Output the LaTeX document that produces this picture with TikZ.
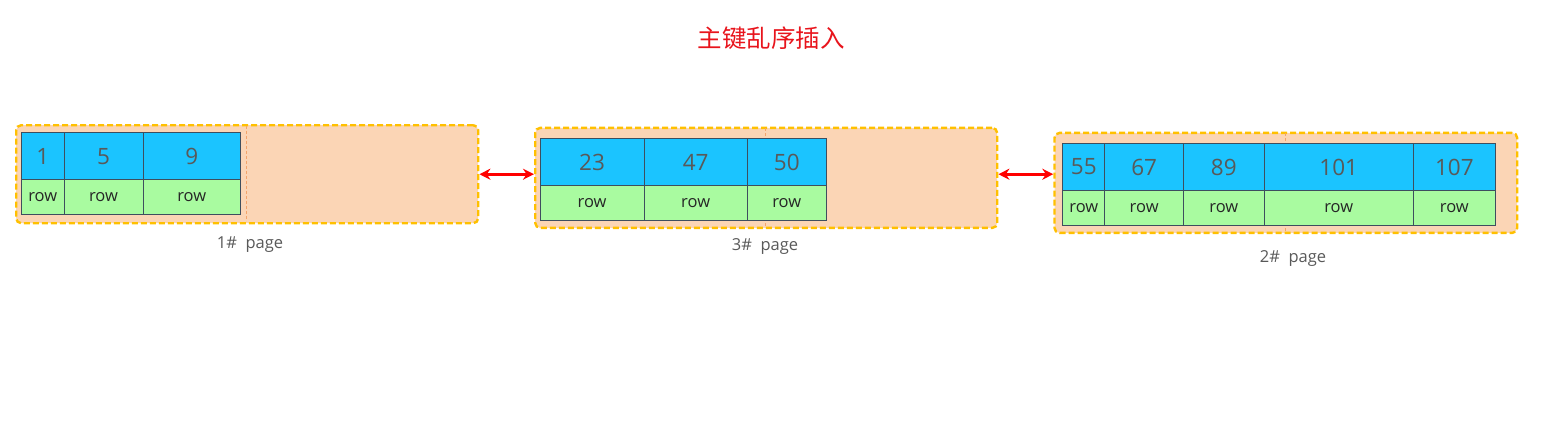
\documentclass[tikz,border=0pt]{standalone}
\usepackage{fontspec}
\setmainfont{Open Sans}
\newfontfamily\cjk{Noto Sans CJK SC}
\usetikzlibrary{arrows.meta}
\definecolor{peach}{HTML}{FBD5B5}
\definecolor{gold}{HTML}{FFC000}
\definecolor{keyblue}{HTML}{1BC4FF}
\definecolor{rowgreen}{HTML}{A9FBA0}
\definecolor{celledge}{HTML}{3E4E5E}
\definecolor{numgray}{HTML}{595959}
\definecolor{divcol}{HTML}{F4A46A}
\definecolor{titlered}{HTML}{E8141C}
\tikzset{
  x=1pt, y=-1pt,
  pagebox/.style={fill=peach, draw=gold, dash pattern=on 6pt off 3pt, line width=2.4pt, rounded corners=5pt, inner sep=0pt, anchor=north west},
  divider/.style={draw=divcol, dash pattern=on 3pt off 2pt, line width=0.8pt},
  keycell/.style={fill=keyblue, draw=celledge, line width=1pt, inner sep=0pt, anchor=north west, text=numgray, font=\fontsize{22.5}{22.5}\selectfont},
  rowcell/.style={fill=rowgreen, draw=celledge, line width=1pt, inner sep=0pt, anchor=north west, text=black!85, font=\fontsize{16.5}{16.5}\selectfont},
  pagelabel/.style={text=numgray, font=\fontsize{16.5}{16.5}\selectfont},
  link/.style={{Stealth[length=11pt,width=11pt]}-{Stealth[length=11pt,width=11pt]}, draw=red, line width=3pt},
}
\begin{document}
\begin{tikzpicture}
\useasboundingbox (0,0) rectangle (1545,436);
\node[text=titlered, font=\cjk\fontsize{24.5}{24.5}\selectfont] (title) at (771,38) {主键乱序插入};

% page 1
\node[pagebox, minimum width=462pt, minimum height=98pt] (p1) at (15,124) {};
\draw[divider] (246,125.5) coordinate (d1a) -- (246,220.5) coordinate (d1b);
\foreach \xa/\xb/\t [count=\i] in {21/63.5/1, 63.5/142.5/5, 142.5/240/9} {
  \pgfmathsetmacro\w{\xb-\xa}
  \node[keycell, minimum width=\w pt, minimum height=47pt] (p1k\i) at (\xa,132.3) {\t};
  \node[rowcell, minimum width=\w pt, minimum height=35pt] (p1r\i) at (\xa,179.3) {row};
}
\node[pagelabel] (l1) at (250,245) {1\#\ \ page};

% page 3
\node[pagebox, minimum width=462pt, minimum height=100pt] (p3) at (534,126.7) {};
\draw[divider] (765.3,128) coordinate (d3a) -- (765.3,225.5) coordinate (d3b);
\foreach \xa/\xb/\t [count=\i] in {539.7/643.5/23, 643.5/746.8/47, 746.8/825.7/50} {
  \pgfmathsetmacro\w{\xb-\xa}
  \node[keycell, minimum width=\w pt, minimum height=47.6pt] (p3k\i) at (\xa,137.7) {\t};
  \node[rowcell, minimum width=\w pt, minimum height=34.4pt] (p3r\i) at (\xa,185.3) {row};
}
\node[pagelabel] (l3) at (765,247) {3\#\ \ page};

% page 2
\node[pagebox, minimum width=462.7pt, minimum height=100pt] (p2) at (1053.3,131.7) {};
\draw[divider] (1285.3,133) coordinate (d2a) -- (1285.3,230.5) coordinate (d2b);
\foreach \xa/\xb/\t [count=\i] in {1062.3/1104.3/55, 1104.3/1183/67, 1183/1263.7/89, 1263.7/1412.7/101, 1412.7/1495/107} {
  \pgfmathsetmacro\w{\xb-\xa}
  \node[keycell, minimum width=\w pt, minimum height=47.6pt] (p2k\i) at (\xa,142.7) {\t};
  \node[rowcell, minimum width=\w pt, minimum height=34.4pt] (p2r\i) at (\xa,190.3) {row};
}
\node[pagelabel] (l2) at (1293,259) {2\#\ \ page};

% links
\draw[link] (p1.east) -- (p1.east -| p3.west);
\draw[link] (p3.east |- p1.east) -- (p1.east -| p2.west);
\end{tikzpicture}
\end{document}
